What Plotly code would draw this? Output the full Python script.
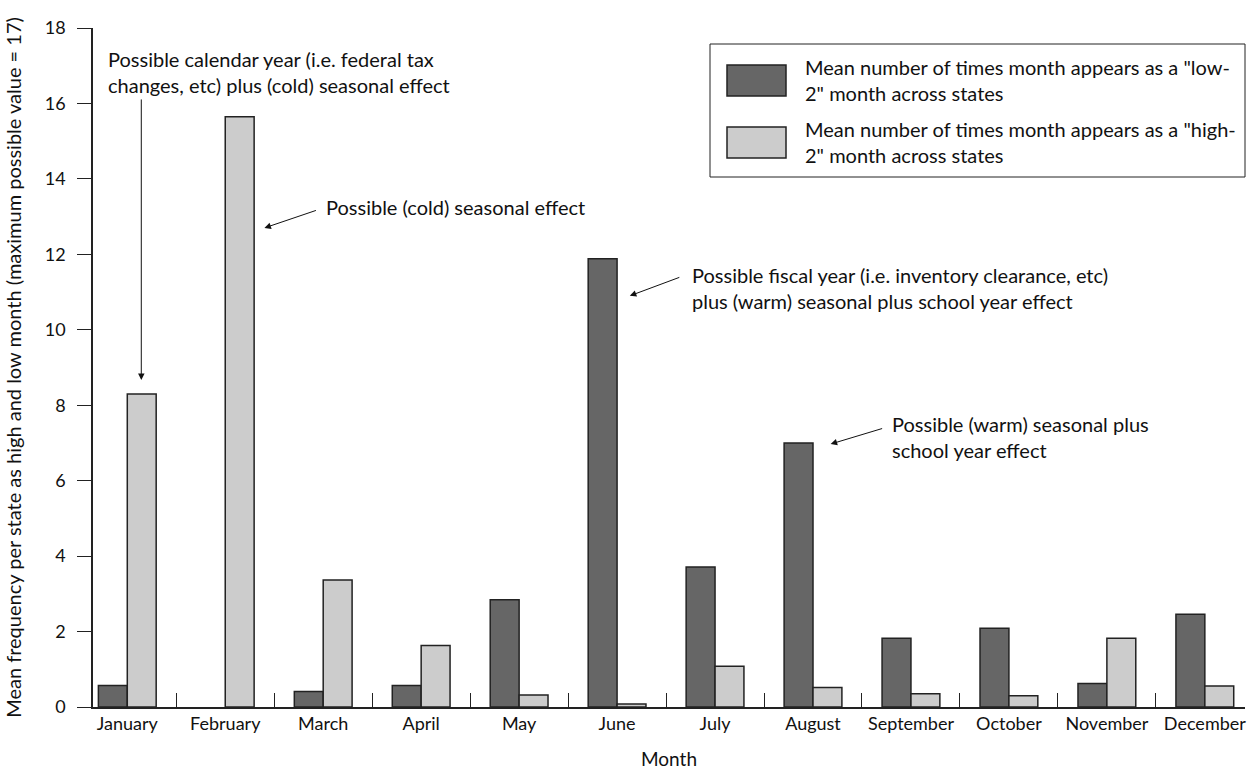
import plotly.graph_objects as go

months = ["January", "February", "March", "April", "May", "June", "July",
          "August", "September", "October", "November", "December"]
low2 = [0.57, 0.0, 0.41, 0.57, 2.84, 11.88, 3.71, 7.0, 1.82, 2.09, 0.62, 2.46]
high2 = [8.3, 15.65, 3.37, 1.63, 0.32, 0.08, 1.08, 0.52, 0.35, 0.30, 1.82, 0.56]

low_name = 'Mean number of times month appears as a "low-<br>2" month across states'
high_name = 'Mean number of times month appears as a "high-<br>2" month across states'
y_title = "Mean frequency per state as high and low month (maximum possible value = 17)"
x_title = "Month"
y_ticks = [0, 2, 4, 6, 8, 10, 12, 14, 16, 18]

FONT = "Lato"
DARK = "#666666"
LIGHT = "#cccccc"
EDGE = "#222222"

W, H = 1248, 770
L, R, T, B = 93, 3, 28, 63
PW, PH = W - L - R, H - T - B


def px(x):
    return (x - L) / PW


def py(y):
    return (H - B - y) / PH


def edge_widths(vals):
    return [1.5 if v > 0 else 0 for v in vals]


fig = go.Figure()
fig.add_trace(go.Bar(x=months, y=low2, name=low_name,
                     marker=dict(color=DARK, line=dict(color=EDGE, width=edge_widths(low2)))))
fig.add_trace(go.Bar(x=months, y=high2, name=high_name,
                     marker=dict(color=LIGHT, line=dict(color=EDGE, width=edge_widths(high2)))))

annotations = []
texts = [
    ("Possible calendar year (i.e. federal tax<br>changes, etc) plus (cold) seasonal effect", -0.214, 17.55, "top"),
    ("Possible (cold) seasonal effect", 2.01, 13.25, "middle"),
    ("Possible fiscal year (i.e. inventory clearance, etc)<br>plus (warm) seasonal plus school year effect", 5.74, 11.1, "middle"),
    ("Possible (warm) seasonal plus<br>school year effect", 7.79, 7.15, "middle"),
]
for t, x, y, ya in texts:
    annotations.append(dict(text=t, x=x, y=y, xref="x", yref="y", xanchor="left", yanchor=ya,
                            align="left", showarrow=False, font=dict(family=FONT, size=20, color="#111")))
arrows = [
    (0.143, 8.67, 0, -282),
    (1.40, 12.70, 53, -18),
    (5.13, 10.90, 51, -19),
    (7.18, 6.97, 53, -16),
]
for x, y, ax, ay in arrows:
    annotations.append(dict(text="", x=x, y=y, xref="x", yref="y", ax=ax, ay=ay,
                            showarrow=True, arrowhead=2, arrowsize=1.3, arrowwidth=1, arrowcolor="#111"))

shapes = [
    dict(type="rect", xref="paper", yref="paper", x0=px(710), x1=px(1245), y0=py(177), y1=py(44),
         line=dict(color="#222", width=1), fillcolor="white", layer="above"),
    dict(type="rect", xref="paper", yref="paper", x0=px(727), x1=px(786), y0=py(96), y1=py(65),
         line=dict(color=EDGE, width=1.5), fillcolor=DARK, layer="above"),
    dict(type="rect", xref="paper", yref="paper", x0=px(727), x1=px(786), y0=py(158), y1=py(127),
         line=dict(color=EDGE, width=1.5), fillcolor=LIGHT, layer="above"),
]
for name, yc in [(low_name, 80), (high_name, 142)]:
    annotations.append(dict(text=name, x=px(803), y=py(yc), xref="paper", yref="paper",
                            xanchor="left", yanchor="middle", align="left", showarrow=False,
                            font=dict(family=FONT, size=20, color="#111")))

fig.update_layout(
    width=W, height=H,
    margin=dict(l=L, r=R, t=T, b=B),
    paper_bgcolor="white", plot_bgcolor="white",
    barmode="group", bargap=0.41, bargroupgap=0,
    showlegend=False,
    font=dict(family=FONT, size=18, color="#111"),
    annotations=annotations, shapes=shapes,
)
fig.update_xaxes(
    range=[-0.35, 11.41], showline=True, linecolor="#222", linewidth=1.5,
    ticks="inside", tickson="boundaries", ticklen=14, tickcolor="#222",
    showgrid=False, zeroline=False, tickfont=dict(family=FONT, size=18),
    title=dict(text=x_title, font=dict(family=FONT, size=19), standoff=20),
)
fig.update_yaxes(
    range=[0, 18], tickvals=y_ticks, showline=True, linecolor="#222", linewidth=1.5,
    ticks="outside", ticklen=14, tickcolor="#222", showgrid=False, zeroline=False,
    tickfont=dict(family=FONT, size=18), ticklabelstandoff=8,
    title=dict(text=y_title, font=dict(family=FONT, size=20), standoff=18),
)

fig.write_html("out.html", config={"displayModeBar": False},
               post_script="document.body.style.margin='0px';document.body.style.overflow='hidden';")
